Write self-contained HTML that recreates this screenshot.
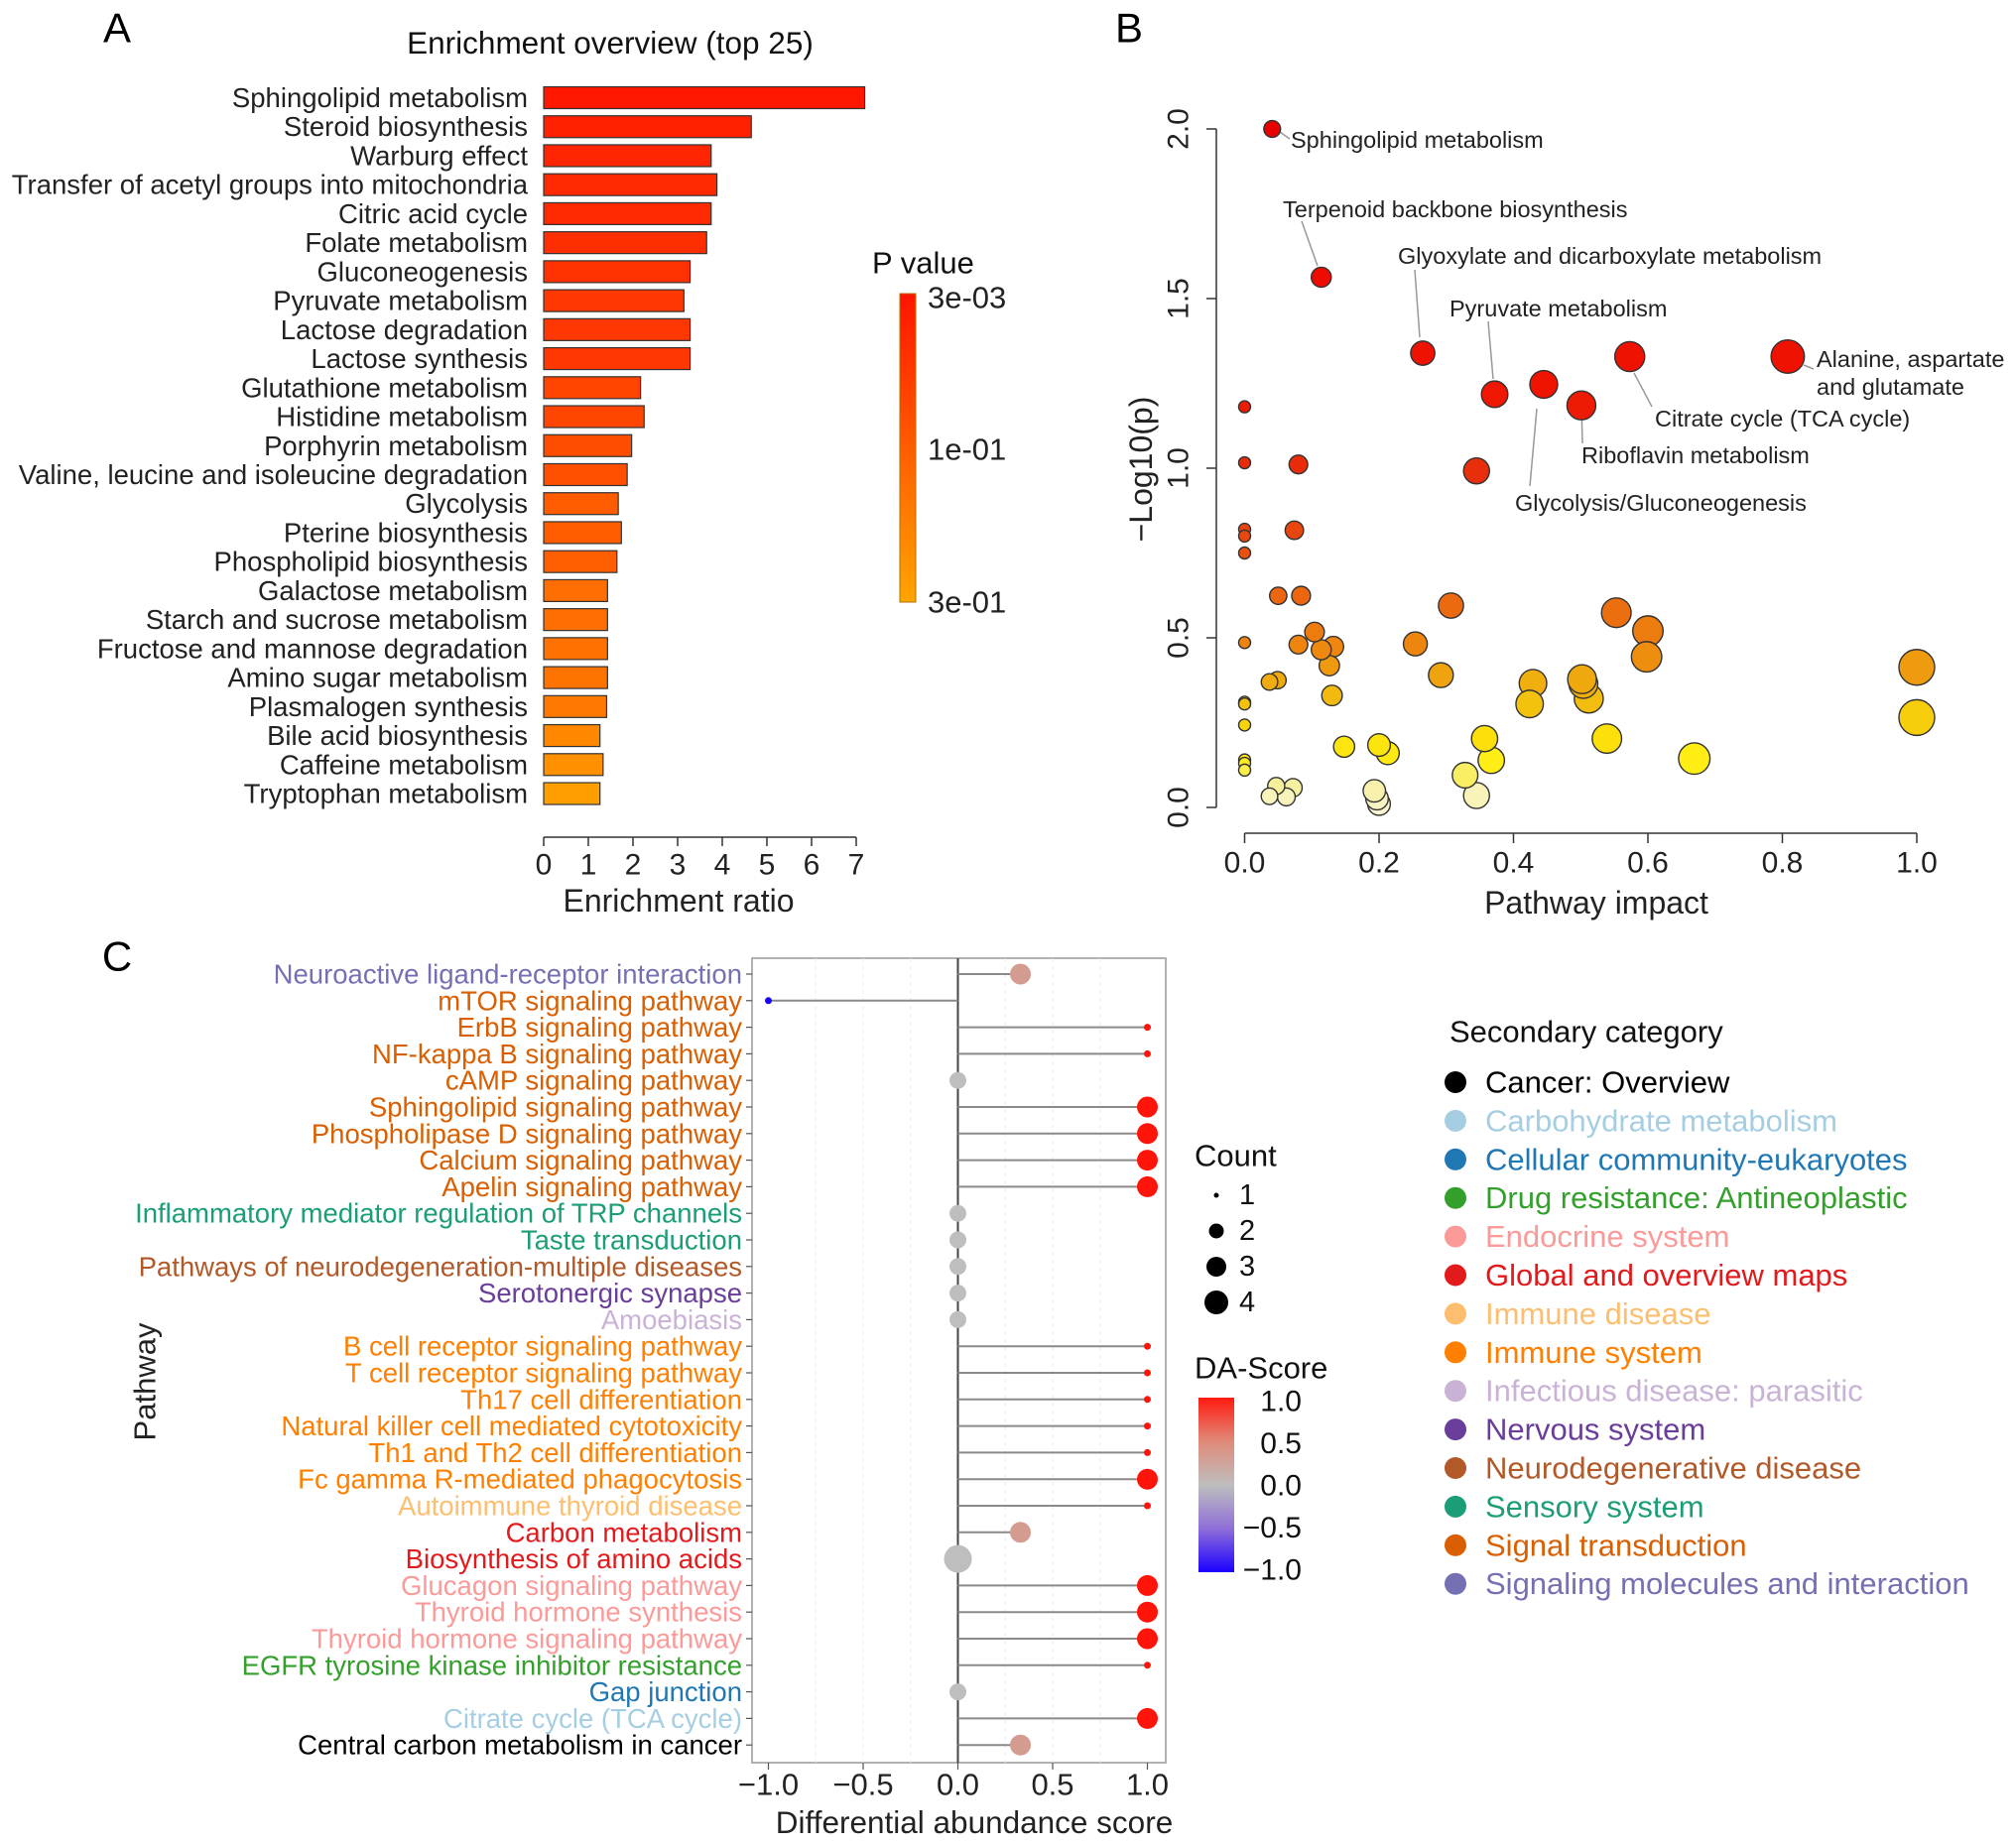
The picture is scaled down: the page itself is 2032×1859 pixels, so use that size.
<!DOCTYPE html>
<html><head><meta charset="utf-8"><style>
html,body{margin:0;padding:0;background:#fff;}
svg{display:block;font-family:"Liberation Sans",Arial,sans-serif;}
</style></head><body>
<svg id="fig" width="2032" height="1859" viewBox="0 0 2032 1859" xmlns="http://www.w3.org/2000/svg">
<defs>
<linearGradient id="pgrad" x1="0" y1="0" x2="0" y2="1"><stop offset="0" stop-color="#ff1400"/><stop offset="0.5" stop-color="#ff5c00"/><stop offset="1" stop-color="#ffa500"/></linearGradient>
<linearGradient id="dagrad" x1="0" y1="1" x2="0" y2="0"><stop offset="0" stop-color="#1a00ff"/><stop offset="0.25" stop-color="#8f6fd8"/><stop offset="0.5" stop-color="#bebebe"/><stop offset="0.75" stop-color="#e08a78"/><stop offset="1" stop-color="#ff1a10"/></linearGradient>
</defs>
<g id="panelA"></g>
<g id="panelB"></g>
<g id="panelC"></g>
</svg>
<script>
// ---------- Panel A data ----------
const aCategories = ["Sphingolipid metabolism","Steroid biosynthesis","Warburg effect","Transfer of acetyl groups into mitochondria","Citric acid cycle","Folate metabolism","Gluconeogenesis","Pyruvate metabolism","Lactose degradation","Lactose synthesis","Glutathione metabolism","Histidine metabolism","Porphyrin metabolism","Valine, leucine and isoleucine degradation","Glycolysis","Pterine biosynthesis","Phospholipid biosynthesis","Galactose metabolism","Starch and sucrose metabolism","Fructose and mannose degradation","Amino sugar metabolism","Plasmalogen synthesis","Bile acid biosynthesis","Caffeine metabolism","Tryptophan metabolism"];
const aRatios = [7.19,4.65,3.75,3.88,3.75,3.65,3.28,3.14,3.28,3.28,2.17,2.25,1.97,1.87,1.67,1.74,1.64,1.43,1.43,1.43,1.43,1.41,1.26,1.33,1.26];
const aPvalues = [0.0035,0.0053,0.0070,0.0081,0.0086,0.0107,0.0123,0.0163,0.0163,0.0163,0.033,0.0355,0.050,0.058,0.10,0.10,0.105,0.131,0.131,0.137,0.143,0.156,0.194,0.221,0.27];
const aTicks = [0,1,2,3,4,5,6,7];
const aPTicks = ["3e-03","1e-01","3e-01"];
// ---------- Panel B data ----------
const bImpact = [0.041,0.114,0.265,0.372,0.445,0.501,0.573,0.808,0.345,0,0,0,0,0,0.080,0.074,0.050,0.084,0,0.080,0.104,0.114,0.132,0.126,0.130,0.307,0.254,0.292,0.553,0.600,0.598,1.0,1.0,0.429,0.424,0.502,0.504,0.512,0.539,0.669,0.357,0.367,0.328,0.345,0.148,0.200,0.213,0.193,0.197,0.200,0.037,0.047,0.062,0.072,0.037,0.049,0,0,0,0,0,0];
const bLogP = [2.0,1.563,1.339,1.218,1.247,1.185,1.329,1.329,0.992,1.181,1.016,0.82,0.80,0.75,1.011,0.817,0.624,0.624,0.486,0.48,0.517,0.465,0.474,0.418,0.33,0.595,0.482,0.39,0.574,0.52,0.444,0.413,0.265,0.366,0.305,0.378,0.364,0.321,0.203,0.144,0.203,0.139,0.095,0.035,0.179,0.184,0.16,0.049,0.026,0.010,0.033,0.063,0.031,0.058,0.37,0.375,0.31,0.305,0.243,0.14,0.13,0.11];
const bLabels = ["Sphingolipid metabolism","Terpenoid backbone biosynthesis","Glyoxylate and dicarboxylate metabolism","Pyruvate metabolism","Alanine, aspartate","and glutamate","Citrate cycle (TCA cycle)","Riboflavin metabolism","Glycolysis/Gluconeogenesis"];
const bXTicks = [0,0.2,0.4,0.6,0.8,1.0];
const bYTicks = [0,0.5,1.0,1.5,2.0];
// ---------- Panel C data ----------
const cPathways = ["Neuroactive ligand-receptor interaction","mTOR signaling pathway","ErbB signaling pathway","NF-kappa B signaling pathway","cAMP signaling pathway","Sphingolipid signaling pathway","Phospholipase D signaling pathway","Calcium signaling pathway","Apelin signaling pathway","Inflammatory mediator regulation of TRP channels","Taste transduction","Pathways of neurodegeneration-multiple diseases","Serotonergic synapse","Amoebiasis","B cell receptor signaling pathway","T cell receptor signaling pathway","Th17 cell differentiation","Natural killer cell mediated cytotoxicity","Th1 and Th2 cell differentiation","Fc gamma R-mediated phagocytosis","Autoimmune thyroid disease","Carbon metabolism","Biosynthesis of amino acids","Glucagon signaling pathway","Thyroid hormone synthesis","Thyroid hormone signaling pathway","EGFR tyrosine kinase inhibitor resistance","Gap junction","Citrate cycle (TCA cycle)","Central carbon metabolism in cancer"];
const cCategoryIdx = [13,12,12,12,12,12,12,12,12,11,11,10,9,8,7,7,7,7,7,7,6,5,5,4,4,4,3,2,1,0];
const cScores = [0.33,-1,1,1,0,1,1,1,1,0,0,0,0,0,1,1,1,1,1,1,1,0.33,0,1,1,1,1,0,1,0.33];
const cCounts = [3,1,1,1,2,3,3,3,3,2,2,2,2,2,1,1,1,1,1,3,1,3,4,3,3,3,1,2,3,3];
const cCategories = ["Cancer: Overview","Carbohydrate metabolism","Cellular community-eukaryotes","Drug resistance: Antineoplastic","Endocrine system","Global and overview maps","Immune disease","Immune system","Infectious disease: parasitic","Nervous system","Neurodegenerative disease","Sensory system","Signal transduction","Signaling molecules and interaction"];
const cCatColors = ["#000000","#a6cee3","#1f78b4","#33a02c","#fb9a99","#e31a1c","#fdbf6f","#ff7f00","#cab2d6","#6a3d9a","#b15928","#1b9e77","#d95f02","#7570b3"];
const cXTicks = [-1,-0.5,0,0.5,1];
const cCountLevels = [1,2,3,4];
const cDaTicks = [1,0.5,0,-0.5,-1];

const NS="http://www.w3.org/2000/svg";
function mk(parent,tag,attrs,text){const e=document.createElementNS(NS,tag);for(const k in attrs)e.setAttribute(k,attrs[k]);if(text!==undefined)e.textContent=text;parent.appendChild(e);return e;}
function lerp(a,b,t){return a+(b-a)*t;}
function mix(c1,c2,t){return `rgb(${Math.round(lerp(c1[0],c2[0],t))},${Math.round(lerp(c1[1],c2[1],t))},${Math.round(lerp(c1[2],c2[2],t))})`;}
function stops(list,v){if(v<=list[0][0])return mix(list[0][1],list[0][1],0);for(let i=1;i<list.length;i++){if(v<=list[i][0]){const t=(v-list[i-1][0])/(list[i][0]-list[i-1][0]);return mix(list[i-1][1],list[i][1],t);}}return mix(list[list.length-1][1],list[list.length-1][1],0);}
function fmt(v){return v===0?'0.0':(v<0?'\u2212':'')+Math.abs(v).toFixed(1);}

// ===== Panel A =====
const A=document.getElementById('panelA');
const ax0=548, axU=45, ay0=98.5, ayStep=29.23, barH=22;
const xA=v=>ax0+v*axU, yA=i=>ay0+i*ayStep;
function pFrac(p){const l=Math.log10(p);if(l<=-1)return Math.max(0,(l+2.523)/1.523*0.497);return Math.min(1,0.497+(l+1)/0.477*0.503);}
const pStops=[[0,[255,20,0]],[0.5,[255,92,0]],[1,[255,165,0]]];
let t=mk(A,'text',{x:118,y:28,'font-size':42,'dominant-baseline':'central','text-anchor':'middle'},'A');

t=mk(A,'text',{x:615,y:43,'font-size':31.5,'dominant-baseline':'central','text-anchor':'middle',fill:'#111'},'Enrichment overview (top 25)');

aCategories.forEach((c,i)=>{
  const l=mk(A,'text',{x:532,y:yA(i),'font-size':27.5,'dominant-baseline':'central','text-anchor':'end',fill:'#222'},c);
  
  const r=mk(A,'rect',{x:xA(0),y:yA(i)-barH/2,width:xA(aRatios[i])-xA(0),height:barH,fill:stops(pStops,pFrac(aPvalues[i])),stroke:'#333','stroke-width':1.2});
  
});
mk(A,'line',{x1:xA(0),y1:844,x2:xA(7),y2:844,stroke:'#333','stroke-width':1.5});
aTicks.forEach(v=>{
  mk(A,'line',{x1:xA(v),y1:844,x2:xA(v),y2:853,stroke:'#333','stroke-width':1.5});
  const l=mk(A,'text',{x:xA(v),y:872,'font-size':30,'dominant-baseline':'central','text-anchor':'middle',fill:'#222'},String(v));
  
});
t=mk(A,'text',{x:684,y:908,'font-size':32,'dominant-baseline':'central','text-anchor':'middle',fill:'#222'},'Enrichment ratio');

t=mk(A,'text',{x:879,y:265,'font-size':31,'dominant-baseline':'central',fill:'#111'},'P value');

const cb=mk(A,'rect',{x:907,y:296,width:16,height:311,fill:'url(#pgrad)',stroke:'#b07000','stroke-width':1});

[[aPTicks[0],300],[aPTicks[1],453],[aPTicks[2],607]].forEach(([s,y])=>{
  const l=mk(A,'text',{x:935,y:y,'font-size':31,'dominant-baseline':'central',fill:'#222'},s);
  
});

// ===== Panel B =====
const B=document.getElementById('panelB');
const bx0=1254.5,bxU=677.5,by0=814,byU=342;
const xB=v=>bx0+v*bxU, yB=v=>by0-v*byU;
const heat=[[0,[250,246,220]],[0.06,[246,240,160]],[0.14,[255,238,20]],[0.22,[250,220,10]],[0.35,[240,180,15]],[0.45,[238,140,15]],[0.6,[236,105,15]],[0.8,[232,72,15]],[1.0,[232,45,10]],[1.25,[240,20,0]],[2.0,[235,0,0]]];
t=mk(B,'text',{x:1138,y:28,'font-size':42,'dominant-baseline':'central','text-anchor':'middle'},'B');

mk(B,'line',{x1:1226,y1:yB(0),x2:1226,y2:yB(2),stroke:'#333','stroke-width':1.5});
bYTicks.forEach(v=>{
  mk(B,'line',{x1:1216,y1:yB(v),x2:1226,y2:yB(v),stroke:'#333','stroke-width':1.5});
  const l=mk(B,'text',{x:1188,y:yB(v),'font-size':30,'dominant-baseline':'central','text-anchor':'middle',fill:'#222',transform:`rotate(-90 1188 ${yB(v)})`},v.toFixed(1));
  
});
mk(B,'line',{x1:xB(0),y1:840,x2:xB(1),y2:840,stroke:'#333','stroke-width':1.5});
bXTicks.forEach(v=>{
  mk(B,'line',{x1:xB(v),y1:840,x2:xB(v),y2:850,stroke:'#333','stroke-width':1.5});
  const l=mk(B,'text',{x:xB(v),y:870,'font-size':30,'dominant-baseline':'central','text-anchor':'middle',fill:'#222'},v.toFixed(1));
  
});
t=mk(B,'text',{x:1609,y:910,'font-size':32,'dominant-baseline':'central','text-anchor':'middle',fill:'#222'},'Pathway impact');

t=mk(B,'text',{x:1150,y:473,'font-size':32,'dominant-baseline':'central','text-anchor':'middle',fill:'#222',transform:'rotate(-90 1150 473)'},'\u2212Log10(p)');

[[1290,133,1300,140],[1312,223,1328,268],[1426,272,1431,340],[1500,324,1505,382],[1647,376,1665,410],[1818,368,1828,372],[1594,408,1595,447],[1549,412,1542,490]].forEach(s=>{
  mk(B,'line',{x1:s[0],y1:s[1],x2:s[2],y2:s[3],stroke:'#999','stroke-width':1.5});
});
const order=bImpact.map((_,i)=>i).sort((a,b)=>bImpact[b]-bImpact[a]);
order.forEach(i=>{
  const c=mk(B,'circle',{cx:xB(bImpact[i]),cy:yB(bLogP[i]),r:6+12*Math.sqrt(bImpact[i]),fill:stops(heat,bLogP[i]),stroke:'#333','stroke-width':1.4});
  
});
[[bLabels[0],1301,141],[bLabels[1],1293,211],[bLabels[2],1409,258],[bLabels[3],1461,311],[bLabels[4],1831,362],[bLabels[5],1831,390],[bLabels[6],1668,422],[bLabels[7],1594,459],[bLabels[8],1527,507]].forEach(([s,x,y])=>{
  const l=mk(B,'text',{x:x,y:y,'font-size':23.5,'dominant-baseline':'central',fill:'#222'},s);
  
});

// ===== Panel C =====
const C=document.getElementById('panelC');
const cx0=965.5,cxU=191,cy0=982,cyStep=26.8;
const xC=v=>cx0+v*cxU, yC=i=>cy0+i*cyStep;
const daStops=[[-1,[26,0,255]],[-0.5,[143,111,216]],[0,[190,190,190]],[0.5,[224,138,120]],[1,[255,20,10]]];
const sizeR=n=>[0,3.5,8.5,10.5,14][n];
t=mk(C,'text',{x:118,y:964,'font-size':42,'dominant-baseline':'central','text-anchor':'middle'},'C');

const box=mk(C,'rect',{x:758,y:966,width:417,height:811,fill:'#fff',stroke:'#999','stroke-width':1.5});

[-0.75,-0.5,-0.25,0.25,0.5,0.75].forEach(v=>mk(C,'line',{x1:xC(v),y1:966,x2:xC(v),y2:1777,stroke:'#ececec','stroke-width':1,'stroke-dasharray':'4 4'}));
mk(C,'line',{x1:xC(0),y1:966,x2:xC(0),y2:1777,stroke:'#444','stroke-width':2});
cPathways.forEach((p,i)=>{
  const col=cCatColors[cCategoryIdx[i]];
  const l=mk(C,'text',{x:748,y:yC(i),'font-size':27.5,'dominant-baseline':'central','text-anchor':'end',fill:col},p);
  
  mk(C,'line',{x1:752,y1:yC(i),x2:758,y2:yC(i),stroke:'#555','stroke-width':1.2});
  if(cScores[i]!==0)mk(C,'line',{x1:xC(0),y1:yC(i),x2:xC(cScores[i]),y2:yC(i),stroke:'#8a8a8a','stroke-width':2});
  const d=mk(C,'circle',{cx:xC(cScores[i]),cy:yC(i),r:sizeR(cCounts[i]),fill:stops(daStops,cScores[i])});
  
});
cXTicks.forEach(v=>{
  mk(C,'line',{x1:xC(v),y1:1777,x2:xC(v),y2:1784,stroke:'#555','stroke-width':1.2});
  const l=mk(C,'text',{x:xC(v),y:1799,'font-size':31,'dominant-baseline':'central','text-anchor':'middle',fill:'#222'},fmt(v));
  
});
t=mk(C,'text',{x:982,y:1837,'font-size':31.5,'dominant-baseline':'central','text-anchor':'middle',fill:'#222'},'Differential abundance score');

t=mk(C,'text',{x:146,y:1393,'font-size':31,'dominant-baseline':'central','text-anchor':'middle',fill:'#222',transform:'rotate(-90 146 1393)'},'Pathway');

t=mk(C,'text',{x:1204,y:1165,'font-size':31,'dominant-baseline':'central',fill:'#111'},'Count');

cCountLevels.forEach((n,k)=>{
  const y=[1205,1241,1277,1313][k];
  const d=mk(C,'circle',{cx:1226,cy:y,r:[2.5,7.5,10,12][k],fill:'#000'});
  
  const l=mk(C,'text',{x:1249,y:y,'font-size':29,'dominant-baseline':'central',fill:'#111'},String(n));
  
});
t=mk(C,'text',{x:1204,y:1379,'font-size':31,'dominant-baseline':'central',fill:'#111'},'DA-Score');

const dab=mk(C,'rect',{x:1208,y:1409,width:36,height:176,fill:'url(#dagrad)'});

cDaTicks.forEach(v=>{
  const y=1413+(1-v)/2*170;
  const l=mk(C,'text',{x:1312,y:y,'font-size':30,'dominant-baseline':'central','text-anchor':'end',fill:'#111'},fmt(v));
  
});
t=mk(C,'text',{x:1461,y:1040,'font-size':31,'dominant-baseline':'central',fill:'#111'},'Secondary category');

cCategories.forEach((c,k)=>{
  const y=1091+k*38.9;
  const d=mk(C,'circle',{cx:1467,cy:y,r:11,fill:cCatColors[k]});
  
  const l=mk(C,'text',{x:1497,y:y,'font-size':31,'dominant-baseline':'central',fill:cCatColors[k]},c);
  
});
</script>
</body></html>
